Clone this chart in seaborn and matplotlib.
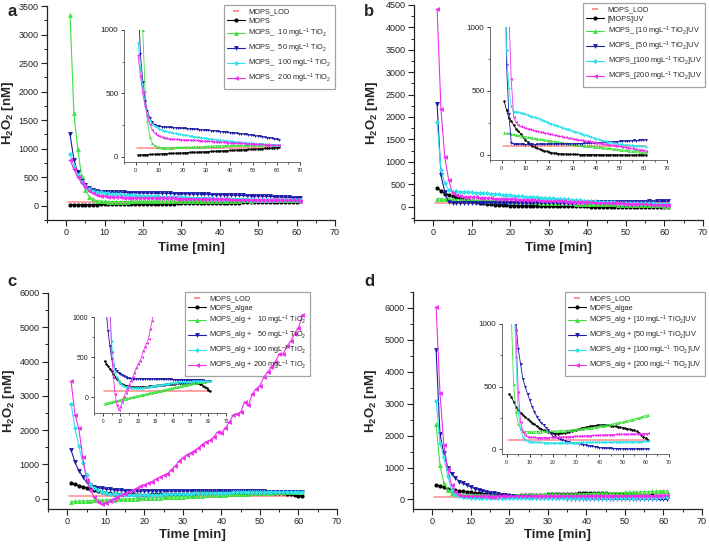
import matplotlib
matplotlib.use("Agg")
import matplotlib.pyplot as plt
from matplotlib.lines import Line2D
from matplotlib.ticker import MultipleLocator
import seaborn as sns

# ---------------- data ----------------
time = list(range(1, 62))
lod_time = [0.5, 61]
lod_value = [70, 70]

# panel a
a_mops = [15, 16, 17, 18, 19, 20, 20, 21, 22, 23,
          24, 25, 26, 27, 27, 28, 29, 30, 31, 32,
          33, 34, 35, 36, 37, 37, 38, 39, 40, 41,
          42, 43, 44, 45, 46, 47, 48, 49, 50, 51,
          52, 53, 54, 55, 56, 57, 58, 59, 60, 61,
          62, 63, 64, 66, 67, 68, 69, 70, 72, 74,
          76]
a_10 = [3350, 1620, 1000, 520, 280, 160, 110, 90, 80, 76,
        74, 73, 73, 73, 74, 74, 75, 75, 76, 76,
        77, 77, 78, 78, 79, 80, 80, 81, 82, 83,
        84, 85, 86, 87, 88, 88, 89, 90, 90, 89,
        90, 91, 91, 90, 91, 92, 92, 91, 92, 92,
        93, 92, 92, 93, 93, 92, 93, 93, 92, 93,
        92]
a_50 = [1250, 810, 590, 440, 360, 305, 275, 255, 245, 240,
        238, 236, 235, 233, 232, 230, 229, 228, 226, 225,
        224, 222, 221, 220, 218, 217, 216, 214, 212, 210,
        209, 207, 205, 204, 202, 200, 198, 196, 194, 192,
        190, 188, 186, 184, 182, 180, 177, 175, 172, 170,
        167, 164, 162, 159, 156, 153, 150, 146, 142, 138,
        135]
a_100 = [900, 700, 540, 420, 340, 290, 262, 245, 232, 222,
         215, 208, 202, 197, 193, 189, 185, 182, 179, 176,
         172, 169, 166, 163, 160, 157, 155, 152, 150, 147,
         145, 142, 140, 137, 135, 132, 130, 128, 126, 124,
         122, 120, 118, 116, 114, 112, 110, 109, 107, 106,
         104, 103, 102, 101, 100, 99, 98, 97, 96, 95,
         95]
a_200 = [800, 640, 500, 400, 320, 260, 215, 190, 175, 166,
         158, 152, 148, 145, 142, 140, 139, 138, 137, 136,
         135, 134, 133, 132, 131, 130, 129, 128, 126, 125,
         123, 122, 121, 120, 118, 117, 116, 115, 113, 112,
         111, 110, 109, 108, 107, 106, 105, 104, 103, 102,
         101, 100, 99, 98, 97, 96, 95, 94, 93, 92,
         91]

# panel b
b_mops = [420, 350, 290, 265, 235, 205, 185, 165, 140, 115,
          100, 85, 72, 62, 52, 45, 38, 32, 27, 22,
          18, 15, 12, 10, 9, 8, 7, 6, 5, 5,
          4, 4, 3, 3, 3, 2, 2, 2, 2, 2,
          1, 1, 1, 1, 1, 1, 1, 1, 0, 0,
          0, 0, 0, 0, 0, 0, 0, 0, 0, 0,
          0]
b_10 = [175, 172, 168, 165, 160, 156, 152, 148, 145, 142,
        139, 136, 133, 130, 127, 124, 121, 118, 115, 112,
        109, 106, 103, 100, 97, 94, 91, 88, 85, 82,
        80, 78, 76, 74, 72, 70, 68, 66, 64, 62,
        60, 58, 56, 54, 52, 50, 48, 46, 44, 42,
        40, 38, 36, 34, 32, 30, 28, 26, 24, 22,
        20]
b_50 = [2280, 700, 320, 95, 85, 82, 82, 83, 82, 81,
        82, 83, 82, 81, 82, 83, 82, 82, 83, 84,
        83, 84, 85, 84, 85, 86, 85, 86, 87, 86,
        87, 88, 88, 89, 90, 90, 91, 92, 92, 93,
        95, 96, 97, 98, 99, 100, 101, 102, 103, 105,
        106, 107, 108, 110, 111, 114, 110, 114, 115, 116,
        117]
b_100 = [1880, 820, 520, 380, 335, 338, 335, 330, 325, 318,
         312, 306, 300, 295, 290, 282, 275, 268, 260, 250,
         242, 236, 230, 224, 218, 212, 206, 200, 194, 188,
         182, 176, 170, 164, 158, 152, 146, 140, 134, 128,
         122, 116, 111, 106, 101, 97, 93, 90, 87, 84,
         82, 80, 78, 76, 74, 72, 70, 68, 67, 66,
         65]
b_200 = [4400, 2170, 1100, 590, 300, 255, 235, 222, 215, 210,
         205, 200, 195, 190, 185, 180, 176, 172, 168, 164,
         160, 156, 152, 148, 144, 140, 136, 132, 129, 126,
         123, 120, 117, 114, 111, 108, 105, 102, 99, 96,
         93, 90, 87, 84, 81, 78, 75, 72, 69, 66,
         63, 60, 57, 54, 51, 48, 45, 42, 39, 36,
         34]

# panel c
c_algae = [450, 415, 385, 350, 320, 285, 255, 225, 200, 175,
           160, 150, 142, 136, 131, 127, 124, 122, 121, 121,
           122, 124, 126, 128, 130, 132, 134, 137, 140, 143,
           146, 149, 152, 154, 156, 158, 160, 162, 164, 166,
           168, 170, 172, 174, 176, 177, 178, 179, 180, 180,
           180, 179, 177, 174, 168, 158, 142, 125, 108, 90,
           72]
c_10 = [-82, -77, -71, -66, -62, -56, -50, -46, -41, -35,
        -31, -25, -21, -14, -10, -6, 1, 5, 11, 14,
        20, 26, 30, 34, 41, 45, 49, 56, 60, 64,
        71, 75, 79, 86, 90, 94, 101, 104, 110, 116,
        119, 124, 131, 135, 139, 146, 150, 154, 160, 164,
        170, 174, 179, 183, 186, 188, 191, 192, 194, 195,
        196]
c_50 = [1420, 1060, 820, 640, 480, 400, 350, 320, 300, 285,
        270, 258, 248, 240, 234, 230, 229, 229, 228, 228,
        228, 227, 227, 226, 226, 225, 225, 224, 224, 223,
        223, 222, 222, 221, 221, 220, 220, 219, 219, 218,
        218, 217, 216, 216, 215, 214, 214, 213, 212, 212,
        211, 210, 210, 209, 208, 208, 207, 206, 206, 205,
        205]
c_100 = [2760, 2060, 1540, 1050, 700, 420, 310, 250, 200, 170,
         150, 138, 130, 125, 122, 118, 115, 113, 112, 112,
         113, 115, 117, 120, 123, 126, 130, 134, 138, 142,
         146, 150, 153, 156, 160, 163, 166, 169, 172, 175,
         178, 180, 182, 184, 186, 188, 190, 191, 192, 193,
         194, 195, 196, 197, 197, 198, 198, 197, 196, 195,
         194]
c_200 = [3420, 2440, 2050, 1220, 560, 250, 40, -100, -160, -130,
         -60, 0, 50, 100, 150, 200, 250, 300, 360, 410,
         450, 500, 570, 630, 680, 730, 850, 950, 1100, 1200,
         1280, 1340, 1400, 1480, 1580, 1660, 1700, 1800, 1950, 1920,
         2050, 2230, 2430, 2480, 2520, 2820, 2720, 3050, 3200, 3300,
         3540, 3700, 3830, 4000, 4220, 4220, 4450, 4600, 4810, 4980,
         5350]

# panel d
d_algae = [440, 420, 380, 340, 310, 290, 270, 255, 240, 225,
           210, 198, 185, 172, 160, 150, 142, 135, 130, 125,
           123, 123, 125, 128, 132, 136, 140, 145, 150, 155,
           160, 165, 170, 174, 178, 182, 185, 188, 190, 192,
           193, 193, 192, 190, 188, 185, 182, 178, 174, 170,
           166, 162, 158, 154, 150, 142, 130, 115, 100, 85,
           72]
d_10 = [2350, 1070, 520, 300, 200, 160, 145, 140, 140, 138,
        138, 139, 139, 140, 140, 141, 141, 142, 142, 143,
        144, 145, 146, 147, 148, 150, 152, 154, 156, 158,
        160, 162, 164, 166, 168, 170, 172, 175, 178, 182,
        185, 188, 191, 194, 198, 202, 206, 210, 214, 218,
        222, 226, 230, 235, 240, 245, 250, 256, 262, 268,
        275]
d_50 = [4680, 2040, 1450, 1000, 800, 680, 560, 500, 440, 390,
        340, 300, 260, 230, 210, 190, 170, 150, 125, 100,
        95, 88, 80, 72, 68, 60, 55, 52, 50, 45,
        42, 40, 35, 32, 28, 26, 22, 20, 15, 12,
        10, 8, 6, 5, 5, 4, 3, 2, 2, 1,
        1, 1, 0, 0, 0, 0, 0, 0, 0, 0,
        0]
d_100 = [3100, 1760, 1340, 740, 300, 160, 100, 75, 65, 60,
         58, 56, 55, 54, 53, 52, 52, 51, 51, 50,
         50, 49, 50, 50, 51, 50, 51, 51, 52, 52,
         52, 53, 53, 53, 54, 54, 54, 55, 55, 55,
         55, 56, 56, 56, 57, 57, 57, 58, 58, 58,
         58, 59, 59, 59, 60, 60, 60, 60, 61, 61,
         61]
d_200 = [6020, 3340, 1700, 950, 460, 220, 140, 110, 100, 96,
         94, 93, 92, 92, 91, 91, 92, 92, 93, 93,
         94, 95, 96, 97, 97, 98, 99, 100, 101, 102,
         103, 104, 105, 106, 107, 108, 109, 110, 110, 111,
         112, 113, 114, 114, 115, 116, 117, 118, 118, 119,
         119, 120, 120, 121, 121, 122, 122, 123, 123, 124,
         125]

labels_a = ["MOPS_LOD", "MOPS",
            "MOPS_  10 mgL$^{-1}$ TiO$_2$", "MOPS_  50 mgL$^{-1}$ TiO$_2$",
            "MOPS_  100 mgL$^{-1}$ TiO$_2$", "MOPS_  200 mgL$^{-1}$ TiO$_2$"]
labels_b = ["MOPS_LOD", "[MOPS]UV",
            "MOPS_ [10 mgL$^{-1}$ TiO$_2$]UV", "MOPS_ [50 mgL$^{-1}$ TiO$_2$]UV",
            "MOPS_[100 mgL$^{-1}$ TiO$_2$]UV", "MOPS_[200 mgL$^{-1}$ TiO$_2$]UV"]
labels_c = ["MOPS_LOD", "MOPS_algae",
            "MOPS_alg +   10 mgL$^{-1}$ TiO$_2$", "MOPS_alg +   50 mgL$^{-1}$ TiO$_2$",
            "MOPS_alg + 100 mgL$^{-1}$ TiO$_2$", "MOPS_alg + 200 mgL$^{-1}$ TiO$_2$"]
labels_d = ["MOPS_LOD", "MOPS_algae",
            "MOPS_alg + [10 mgL$^{-1}$ TiO$_2$]UV", "MOPS_alg + [50 mgL$^{-1}$ TiO$_2$]UV",
            "MOPS_alg + [100 mgL$^{-1}$ TiO$_2$]UV", "MOPS_alg + [200 mgL$^{-1}$ TiO$_2$]UV"]

# ---------------- style ----------------
sns.set_style("ticks")
FONT = "Liberation Sans"
plt.rcParams.update({
    "font.family": [FONT, "DejaVu Sans"],
    "mathtext.fontset": "custom",
    "mathtext.rm": FONT,
    "mathtext.it": FONT + ":italic",
    "mathtext.bf": FONT + ":bold",
    "mathtext.default": "regular",
    "axes.edgecolor": "#222222",
    "axes.linewidth": 0.9,
    "xtick.color": "#222222",
    "ytick.color": "#222222",
})

LOD_C = "#ff8c8c"
COLORS = ["#000000", "#3fe03f", "#1c1ca6", "#2fe2ea", "#ee30ee"]
MARKERS = ["o", "^", "v", "D", "<"]
MSIZE = [3.0, 3.5, 3.5, 2.6, 3.5]

W, H = 709, 544
fig = plt.figure(figsize=(W / 100, H / 100), dpi=100)


def rect(l, r, t, b):
    return [l / W, 1 - b / H, (r - l) / W, (b - t) / H]


def draw(ax, series, lw=0.8, ms_scale=1.0):
    sns.lineplot(x=lod_time, y=lod_value, ax=ax, color=LOD_C, linewidth=1.1,
                 estimator=None, sort=False, legend=False)
    for vals, c, m, ms in zip(series, COLORS, MARKERS, MSIZE):
        sns.lineplot(x=time, y=vals, ax=ax, color=c, marker=m,
                     markersize=ms * ms_scale, markeredgewidth=0, linewidth=lw,
                     estimator=None, sort=False, legend=False)
    ax.set_xlabel("")
    ax.set_ylabel("")


panels = [
    dict(series=[a_mops, a_10, a_50, a_100, a_200], labels=labels_a, letter="a",
         main=rect(47, 335, 6, 220), ylim=(-250, 3500), ymaj=500, ymin=250,
         inset=rect(124, 300, 30, 162), iylim=(-40, 1000), ixlim=(-5, 70),
         ifs_y=5.8, ifs_x=4.0, leg=(335, 5), letter_pos=(7, 12), xpad=3, ylx=-0.108),
    dict(series=[b_mops, b_10, b_50, b_100, b_200], labels=labels_b, letter="b",
         main=rect(414, 703, 5, 220), ylim=(-300, 4500), ymaj=500, ymin=250,
         inset=rect(490, 667, 27, 160), iylim=(-40, 1000), ixlim=(-5, 70),
         ifs_y=5.8, ifs_x=4.0, leg=(705, 3), letter_pos=(364, 11), xpad=3, ylx=-0.118),
    dict(series=[c_algae, c_10, c_50, c_100, c_200], labels=labels_c, letter="c",
         main=rect(48, 337, 293, 509), ylim=(-300, 6000), ymaj=1000, ymin=500,
         inset=rect(94, 226, 317, 413), iylim=(-200, 1000), ixlim=(-5, 70),
         ifs_y=5.0, ifs_x=3.3, leg=(310, 292), letter_pos=(7, 281), xpad=2, ylx=-0.108),
    dict(series=[d_algae, d_10, d_50, d_100, d_200], labels=labels_d, letter="d",
         main=rect(413, 702, 292, 509), ylim=(-300, 6500), ymaj=1000, ymin=500,
         inset=rect(502, 669, 324, 454), iylim=(-40, 1000), ixlim=(-2, 70),
         ifs_y=5.8, ifs_x=3.8, leg=(705, 292), letter_pos=(364, 281), xpad=2, ylx=-0.118),
]

for p in panels:
    ax = fig.add_axes(p["main"])
    draw(ax, p["series"])
    ax.set_xlim(-5, 70)
    ax.set_ylim(*p["ylim"])
    ax.xaxis.set_major_locator(MultipleLocator(10))
    ax.xaxis.set_minor_locator(MultipleLocator(5))
    ax.yaxis.set_major_locator(MultipleLocator(p["ymaj"]))
    ax.yaxis.set_minor_locator(MultipleLocator(p["ymin"]))
    sns.despine(ax=ax)
    ax.tick_params(which="major", direction="out", length=4, width=0.8, labelsize=6.5, pad=2)
    ax.tick_params(which="minor", direction="out", length=2, width=0.7)
    ax.set_xlabel("Time [min]", fontsize=9.5, fontweight="bold", labelpad=p["xpad"])
    ax.set_ylabel(r"$\mathbf{H_2O_2}$ [nM]", fontsize=9.5, fontweight="bold")
    ax.yaxis.set_label_coords(p["ylx"], 0.5)

    ia = fig.add_axes(p["inset"])
    ia.set_facecolor("none")
    draw(ia, p["series"], lw=0.6, ms_scale=0.6)
    ia.set_xlim(*p["ixlim"])
    ia.set_ylim(*p["iylim"])
    ia.xaxis.set_major_locator(MultipleLocator(10))
    ia.xaxis.set_minor_locator(MultipleLocator(5))
    ia.yaxis.set_major_locator(MultipleLocator(500))
    ia.yaxis.set_minor_locator(MultipleLocator(250))
    sns.despine(ax=ia)
    for s in ia.spines.values():
        s.set_linewidth(0.6)
        s.set_color("#555555")
    ia.tick_params(axis="y", which="major", direction="out", length=2.5, width=0.6,
                   labelsize=p["ifs_y"], pad=1.5)
    ia.tick_params(axis="x", which="major", direction="out", length=2.5, width=0.6,
                   labelsize=p["ifs_x"], pad=1.5)
    ia.tick_params(which="minor", direction="out", length=1.3, width=0.5)

    handles = [Line2D([], [], color=LOD_C, marker="_", linestyle="none",
                      markersize=4.5, markeredgewidth=1.3)]
    for c, m, ms in zip(COLORS, MARKERS, MSIZE):
        handles.append(Line2D([], [], color=c, marker=m, markersize=ms,
                              markeredgewidth=0, linewidth=0.8))
    lx, ly = p["leg"]
    leg = fig.legend(handles, p["labels"], loc="upper right",
                     bbox_to_anchor=(lx / W, 1 - ly / H), bbox_transform=fig.transFigure,
                     fontsize=5.3, frameon=True, fancybox=False, edgecolor="#8c8c8c",
                     borderpad=0.45, labelspacing=0.26, handlelength=2.4,
                     handletextpad=0.5, borderaxespad=0)
    leg.get_frame().set_facecolor("none")
    leg.get_frame().set_linewidth(0.9)

    fig.text(p["letter_pos"][0] / W, 1 - p["letter_pos"][1] / H, p["letter"],
             fontsize=12, fontweight="bold", va="center", ha="left")

fig.savefig("out.png", dpi=100)
